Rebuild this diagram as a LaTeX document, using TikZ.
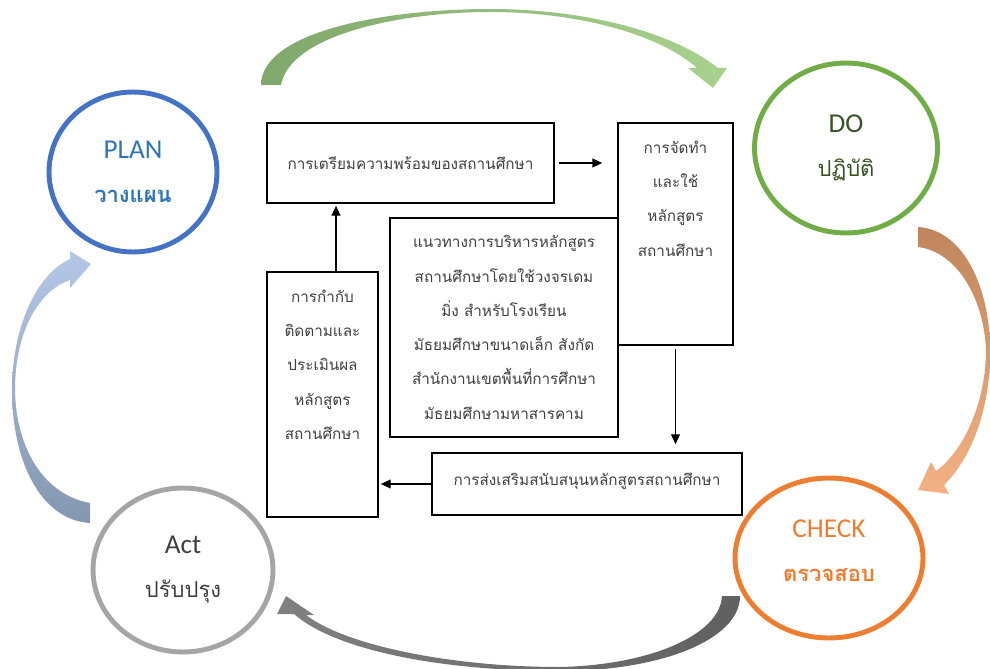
\documentclass[tikz,border=0pt]{standalone}
\usepackage{fontspec}
\setmainfont{Carlito}
\newfontfamily\thaifont[Script=Thai]{Loma}
\usetikzlibrary{shapes.geometric,arrows.meta}
\definecolor{planblue}{HTML}{4472C4}
\definecolor{plantext}{HTML}{2E75B6}
\definecolor{dogreen}{HTML}{70AD47}
\definecolor{dotext}{HTML}{375623}
\definecolor{checkorange}{HTML}{ED7D31}
\definecolor{actgray}{HTML}{A5A5A5}
\definecolor{acttext}{HTML}{404040}
\definecolor{boxtext}{HTML}{3F3F3F}

\begin{document}
\begin{tikzpicture}[x=0.02cm, y=-0.02cm, >={Triangle[length=5.5pt,width=5pt]},
    phase node/.style={ellipse,draw,line width=2.8pt,align=center,
      font=\fontsize{15.5}{18}\selectfont},
    step node/.style={rectangle,draw,line width=1pt,align=center,inner sep=0pt,
      text=boxtext,font=\thaifont\fontsize{8.7}{19.5}\selectfont},]
\useasboundingbox (0,0) rectangle (990,669);

\node[phase node, draw=planblue, text=plantext, minimum width=3.36cm, minimum height=3.2cm] (plan) at (133,172) {PLAN\\[7pt]{\thaifont\bfseries\fontsize{12.5}{15}\selectfont วางแผน}};
\node[phase node, draw=dogreen, text=dotext, minimum width=3.66cm, minimum height=3.4cm] (do) at (846,148) {DO\\[7pt]{\thaifont\fontsize{12.5}{15}\selectfont ปฏิบัติ}};
\node[phase node, draw=checkorange, text=checkorange, minimum width=3.76cm, minimum height=3.2cm] (check) at (829,558) {CHECK\\[7pt]{\thaifont\bfseries\fontsize{12.5}{15}\selectfont ตรวจสอบ}\\[-10pt]};
\node[phase node, draw=actgray, text=acttext, minimum width=3.6cm, minimum height=3.28cm] (act) at (183,570) {Act\\[7pt]{\thaifont\fontsize{12.5}{15}\selectfont ปรับปรุง}};

\node[step node, minimum width=5.74cm, minimum height=1.6cm] (prep) at (410.5,163) {การเตรียมความพร้อมของสถานศึกษา};
\node[step node, minimum width=2.3cm, minimum height=4.44cm] (use) at (675.5,234)
  {\parbox[c][4.44cm][t]{2.3cm}{\centering\vspace*{0.36cm}การจัดทำ\\ และใช้\\ หลักสูตร\\ สถานศึกษา}};
\node[step node, minimum width=4.56cm, minimum height=4.38cm] (guide) at (504,327.5)
  {แนวทางการบริหารหลักสูตร\\ สถานศึกษาโดยใช้วงจรเดม\\ มิ่ง สำหรับโรงเรียน\\ มัธยมศึกษาขนาดเล็ก สังกัด\\ สำนักงานเขตพื้นที่การศึกษา\\ มัธยมศึกษามหาสารคาม};
\node[step node, minimum width=2.22cm, minimum height=4.9cm] (monitor) at (322.5,394.5)
  {\parbox[c][4.9cm][t]{2.22cm}{\centering\vspace*{0.36cm}การกำกับ\\ ติดตามและ\\ ประเมินผล\\ หลักสูตร\\ สถานศึกษา}};
\node[step node, minimum width=6.2cm, minimum height=1.24cm] (support) at (587,484) {การส่งเสริมสนับสนุนหลักสูตรสถานศึกษา\\[-14pt]};

\path[line width=0.6pt]
(prep.east) edge [->, shorten <=0.08cm, shorten >=0.3cm] (prep.east -| use.west)
(use.south) edge [->, shorten <=0.06cm, shorten >=0.16cm] (use.south |- support.north)
(support.west) edge [->, shorten >=0.04cm] (support.west -| monitor.east)
([xshift=0.27cm]monitor.north) edge [->, shorten >=0.04cm] ([xshift=0.27cm]monitor.north |- prep.south);

\shade[left color={rgb,255:red,128;green,168;blue,108}, middle color=green!10, right color={rgb,255:red,169;green,209;blue,142}]
(281,85) .. controls (290,35) and (400,12) .. (490,12) .. controls (580,12) and (660,35) .. (697,68)
-- (688,68) -- (713,88) -- (727,68) -- (718,68)
.. controls (670,30) and (580,9) .. (490,9) .. controls (390,9) and (262,30) .. (261,85) -- cycle;

\shade[top color={rgb,255:red,192;green,133;blue,93}, bottom color={rgb,255:red,244;green,177;blue,131}]
(918,247) .. controls (958,252) and (984,300) .. (986,350) .. controls (986,400) and (965,450) .. (936,471)
-- (931,462) -- (918,490) -- (949,494) -- (944,485)
.. controls (975,455) and (991,400) .. (990,350) .. controls (990,290) and (965,230) .. (918,227) -- cycle;

\shade[left color={rgb,255:red,128;green,128;blue,128}, right color={rgb,255:red,96;green,96;blue,96}]
(722,596) .. controls (720,635) and (650,665) .. (560,667) .. controls (450,667) and (345,645) .. (306,615)
-- (314,615) -- (286,596) -- (277,614) -- (294,614)
.. controls (335,650) and (440,671) .. (560,671) .. controls (660,671) and (740,640) .. (740,596) -- cycle;

\shade[top color={rgb,255:red,180;green,199;blue,231}, middle color={rgb,255:red,214;green,224;blue,240}, bottom color={rgb,255:red,132;green,151;blue,176}]
(90,503) .. controls (45,495) and (16,450) .. (15,390) .. controls (15,330) and (40,290) .. (70,280)
-- (70,288) -- (91,264) -- (70,251) -- (70,259)
.. controls (35,275) and (12,330) .. (12,390) .. controls (12,460) and (40,520) .. (90,523) -- cycle;

\end{tikzpicture}
\end{document}
